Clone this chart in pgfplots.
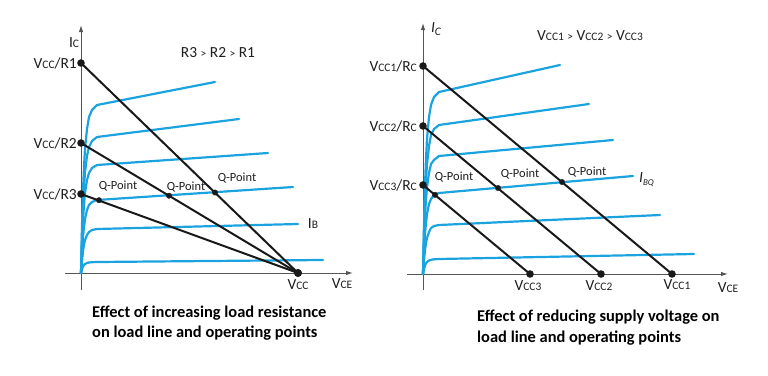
\documentclass[border=0pt]{standalone}
\usepackage{fontspec}
\setmainfont{Carlito}
\usepackage{pgfplots}
\pgfplotsset{compat=1.18}
\usetikzlibrary{arrows.meta}
\definecolor{curvecol}{HTML}{1BA3E0}
\definecolor{axisgray}{HTML}{555555}
\definecolor{txt}{HTML}{1E1E1E}
\newcommand{\sm}[1]{{\fontsize{11.5}{12}\selectfont #1}}
\pgfplotsset{
  panel/.style={x=1bp, y=1bp, anchor=origin, axis lines=middle, enlargelimits=false,
    xtick=\empty, ytick=\empty, clip=false,
    axis line style={axisgray, line width=1bp},
    every inner x axis line/.append style={-{Latex[length=7bp,width=4.5bp]}},
    every inner y axis line/.append style={-{Latex[length=7bp,width=4.5bp]}}},
  curve/.style={curvecol, line width=2.2bp, line join=round, line cap=round, no markers},
  load/.style={black!90, line width=2bp, mark=*, mark size=2.7bp, mark options={solid, fill=black!90}},
  qpt/.style={only marks, mark=*, mark size=2.7bp, black!90},
}
\tikzset{
  lab/.style={font=\fontsize{15.5}{16}\selectfont, text=txt, inner sep=0pt},
  qlab/.style={font=\fontsize{12.5}{13}\selectfont, text=txt, inner sep=0pt},
  captxt/.style={anchor=west, inner sep=0pt, font=\fontsize{16.5}{17}\selectfont\bfseries},
}
\begin{document}
\begin{tikzpicture}
\path[use as bounding box] (0,0) rectangle (768bp,-376bp);
% ---------------- left panel ----------------
\begin{axis}[panel, at={(81bp,-273bp)}, xmin=-16, xmax=272, ymin=-17, ymax=248]
\addplot[curve] coordinates {(0,0) (1,47) (2,82) (3,106) (4,124) (6,144) (8,156) (11,163) (16,168) (134,191)};
\addplot[curve] coordinates {(0,0) (1,38) (2,67) (3,86) (4,101) (6,117) (8,126) (11,132) (16,136) (158,154)};
\addplot[curve] coordinates {(0,0) (1,30) (2,53) (3,68) (4,80) (6,93) (8,100) (11,105) (16,108) (187,120)};
\addplot[curve] coordinates {(0,0) (1,20) (2,36) (3,46) (4,54) (6,63) (8,68) (11,71) (16,73) (212,86)};
\addplot[curve] coordinates {(0,0) (1,12) (2,22) (3,28) (4,33) (6,38) (8,41) (11,43) (16,44) (217,49)};
\addplot[curve] coordinates {(0,0) (1,4) (2,6.5) (3,8) (4,9) (6,10) (8,10.5) (11,10.8) (16,11) (242,13)};
\addplot[load] coordinates {(0,210) (217,0)};
\addplot[load] coordinates {(0,130) (217,0)};
\addplot[load] coordinates {(0,79) (217,0)};
\addplot[qpt] coordinates {(18,72.8) (88,77.3) (134,80.5)};
\node[lab, anchor=east] at (axis cs:-4,210) {V\sm{CC}/R1};
\node[lab, anchor=east] at (axis cs:-4,130) {V\sm{CC}/R2};
\node[lab, anchor=east] at (axis cs:-4,79) {V\sm{CC}/R3};
\node[lab] at (axis cs:-7,230) {I\sm{C}};
\node[lab] at (axis cs:137,220) {R3 \sm{>} R2 \sm{>} R1};
\node[lab] at (axis cs:217,-12) {V\sm{CC}};
\node[lab] at (axis cs:261,-11) {V\sm{CE}};
\node[lab] at (axis cs:232,49) {I\sm{B}};
\node[qlab] at (axis cs:37,87) {Q-Point};
\node[qlab] at (axis cs:105,86) {Q-Point};
\node[qlab] at (axis cs:156,95) {Q-Point};
\end{axis}
% ---------------- right panel ----------------
\begin{axis}[panel, at={(423bp,-274bp)}, xmin=-16, xmax=305, ymin=-16, ymax=251]
\addplot[curve] coordinates {(0,0) (1,51) (2,89) (3,115) (4,135) (6,157) (8,169) (11,177) (16,182) (137,209)};
\addplot[curve] coordinates {(0,0) (1,42) (2,73) (3,94) (4,110) (6,128) (8,139) (11,145) (16,149) (166,170)};
\addplot[curve] coordinates {(0,0) (1,33) (2,58) (3,74) (4,87) (6,101) (8,110) (11,114) (16,118) (190,134)};
\addplot[curve] coordinates {(0,0) (1,23) (2,40) (3,51) (4,60) (6,70) (8,75) (11,79) (16,81) (210,98)};
\addplot[curve] coordinates {(0,0) (1,14) (2,24) (3,31) (4,36) (6,42) (8,46) (11,48) (16,49) (237,59)};
\addplot[curve] coordinates {(0,0) (1,5) (2,8.5) (3,10.5) (4,12) (6,13.5) (8,14.2) (11,14.7) (16,15) (271,20)};
\addplot[load] coordinates {(0,208) (249,0)};
\addplot[load] coordinates {(0,148) (178,0)};
\addplot[load] coordinates {(0,89) (107,0)};
\addplot[qpt] coordinates {(12,79.2) (75,86) (139,92)};
\node[lab, anchor=east] at (axis cs:-6,208) {V\sm{CC1}/R\sm{C}};
\node[lab, anchor=east] at (axis cs:-6,148) {V\sm{CC2}/R\sm{C}};
\node[lab, anchor=east] at (axis cs:-6,89) {V\sm{CC3}/R\sm{C}};
\node[lab] at (axis cs:13,245) {\itshape I\raisebox{-3bp}{\sm{C}}};
\node[lab] at (axis cs:167,238) {V\sm{CC1} \sm{>} V\sm{CC2} \sm{>} V\sm{CC3}};
\node[lab] at (axis cs:105,-12) {V\sm{CC3}};
\node[lab] at (axis cs:176,-12) {V\sm{CC2}};
\node[lab] at (axis cs:254,-11) {V\sm{CC1}};
\node[lab] at (axis cs:305,-14) {V\sm{CE}};
\node[lab, anchor=west] at (axis cs:216,94) {\itshape I\raisebox{-3bp}{\fontsize{9}{9}\selectfont BQ}};
\node[qlab] at (axis cs:31,97) {Q-Point};
\node[qlab] at (axis cs:97,100) {Q-Point};
\node[qlab] at (axis cs:164,102) {Q-Point};
\end{axis}
% ---------------- captions ----------------
\node[captxt] at (92bp,-313bp) {Effect of increasing load resistance};
\node[captxt] at (92bp,-333bp) {on load line and operating points};
\node[captxt] at (477bp,-317bp) {Effect of reducing supply voltage on};
\node[captxt] at (477bp,-338bp) {load line and operating points};
\end{tikzpicture}
\end{document}
